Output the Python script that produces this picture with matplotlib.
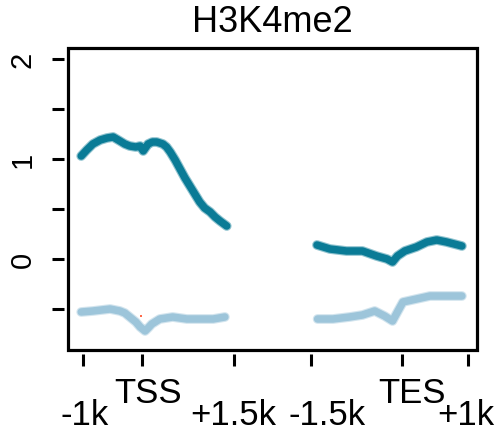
import matplotlib.pyplot as plt
import matplotlib.transforms as mtransforms
from matplotlib.patches import Rectangle

plt.rcParams['font.family'] = ['Liberation Sans', 'DejaVu Sans']

# positions in kb; TSS region relative to TSS, TES region relative to TES
TES_OFFSET = 4.23

tss_x_dark = [-0.99, -0.90, -0.80, -0.68, -0.57, -0.47, -0.36, -0.28, -0.20,
              -0.10, -0.03, 0.02, 0.10, 0.17, 0.24, 0.34, 0.40, 0.46, 0.54,
              0.62, 0.70, 0.78, 0.86, 0.94, 1.02, 1.11, 1.19, 1.27, 1.38]
tss_y_dark = [1.03, 1.09, 1.15, 1.19, 1.21, 1.22, 1.18, 1.15, 1.13,
              1.12, 1.13, 1.08, 1.15, 1.17, 1.17, 1.15, 1.12, 1.07, 0.99,
              0.90, 0.81, 0.73, 0.65, 0.57, 0.51, 0.47, 0.42, 0.38, 0.33]

tss_x_light = [-0.99, -0.80, -0.52, -0.36, -0.28, -0.20, -0.10, -0.03, 0.05,
               0.10, 0.16, 0.29, 0.50, 0.73, 0.94, 1.16, 1.35]
tss_y_light = [-0.53, -0.52, -0.50, -0.52, -0.54, -0.58, -0.63, -0.68, -0.72,
               -0.69, -0.65, -0.60, -0.58, -0.60, -0.60, -0.60, -0.58]

tes_x_dark = [-1.38, -1.17, -0.90, -0.64, -0.41, -0.24, -0.15, -0.07, 0.05,
              0.24, 0.41, 0.57, 0.73, 0.98]
tes_y_dark = [0.14, 0.10, 0.08, 0.08, 0.03, 0.00, -0.03, 0.03, 0.08,
              0.12, 0.17, 0.19, 0.17, 0.13]

tes_x_light = [-1.37, -1.12, -0.85, -0.64, -0.44, -0.28, -0.15, -0.07, 0.02,
               0.24, 0.46, 0.73, 0.98]
tes_y_light = [-0.60, -0.60, -0.58, -0.56, -0.52, -0.57, -0.62, -0.53, -0.43,
               -0.40, -0.37, -0.37, -0.37]

odd_x = [-0.02]
odd_y = [-0.57]

tick_pos = [-0.96, 0.0, 1.50, 2.75, TES_OFFSET, 5.31]
tick_text = ['-1k', 'TSS', '+1.5k', '-1.5k', 'TES', '+1k']
text_pos = [-0.94, 0.10, 1.49, 3.02, 4.39, 5.28]
text_high = [False, True, False, False, True, False]

DARK = '#0a7b96'
LIGHT = '#9dc5da'

fig = plt.figure(figsize=(5.01, 4.35), dpi=100)
ax = fig.add_axes([68 / 501, 84 / 435, 409 / 501, 302 / 435])


def draw(x, y, color, shift=0.0):
    xs = [v + shift for v in x]
    ax.plot(xs, y, color=color, lw=7.0, alpha=0.45, solid_capstyle='round',
            solid_joinstyle='round')
    ax.plot(xs, y, color=color, lw=5.4, solid_capstyle='round',
            solid_joinstyle='round')


draw(tss_x_light, tss_y_light, LIGHT)
draw(tss_x_dark, tss_y_dark, DARK)
draw(tes_x_light, tes_y_light, LIGHT, TES_OFFSET)
draw(tes_x_dark, tes_y_dark, DARK, TES_OFFSET)
ax.plot(odd_x, odd_y, 's', color='#ff6a4a', ms=1.5, mew=0)

ax.set_xlim(-1.205, 5.456)
ax.set_ylim(-0.91, 2.11)

for s in ax.spines.values():
    s.set_visible(False)
ax.spines['left'].set_position(('outward', 3))
ax.spines['bottom'].set_position(('outward', 3))
ax.add_patch(Rectangle((0, 0), 1, 1, transform=ax.transAxes, fill=False,
                       lw=2.3, ec='black', clip_on=False, zorder=5))

ax.set_yticks([-0.5, 0, 0.5, 1, 1.5, 2])
ax.set_yticklabels(['', '0', '', '1', '', '2'], rotation=90, va='center')
ax.tick_params(axis='y', length=8.5, width=2.2, labelsize=21, pad=11)
ax.set_xticks(tick_pos)
ax.set_xticklabels([])
ax.tick_params(axis='x', length=8.5, width=2.2)

trans = mtransforms.blended_transform_factory(ax.transData, ax.transAxes)
for xp, lab, high in zip(text_pos, tick_text, text_high):
    yy = -(403 - 351) / 302 if high else -(425 - 351) / 302
    ax.text(xp, yy, lab, transform=trans, ha='center', va='baseline',
            fontsize=25)

ax.set_title('H3K4me2', fontsize=26, pad=12)

fig.savefig('out.png', dpi=100)
